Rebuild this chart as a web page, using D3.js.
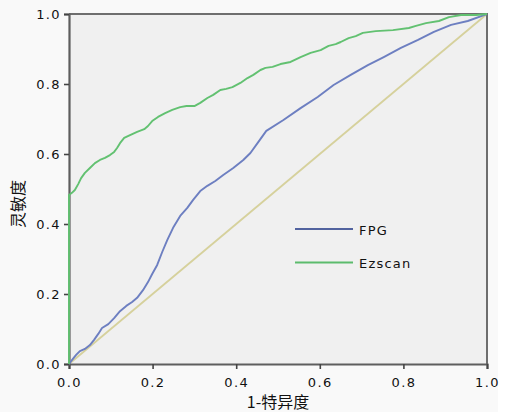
<!DOCTYPE html>
<html>
<head>
<meta charset="utf-8">
<script src="https://cdn.jsdelivr.net/npm/d3@7"></script>
<style>
  body { margin: 0; background: #fff; }
  text { font-family: "DejaVu Sans", sans-serif; fill: #111; }
  .tick text { font-size: 13px; letter-spacing: 1.4px; }
  .ttl { font-family: "Noto Sans CJK SC", sans-serif; font-size: 16px; }
</style>
</head>
<body>
<div id="chart"></div>
<script>
// ROC curves

// data
var seriesNames = ["FPG", "Ezscan"];
var tickValues = [0, 0.2, 0.4, 0.6, 0.8, 1.0];

// FPG: [1-specificity, sensitivity]
var fpgX = [0, 0.007, 0.017, 0.026, 0.038, 0.05, 0.06, 0.07, 0.079, 0.094, 0.108, 0.122, 0.137, 0.151, 0.163, 0.177, 0.189, 0.199, 0.211, 0.223, 0.235, 0.249, 0.266, 0.283, 0.297, 0.314, 0.331, 0.35, 0.369, 0.393, 0.417, 0.434, 0.451, 0.472, 0.513, 0.554, 0.595, 0.633, 0.674, 0.715, 0.753, 0.794, 0.835, 0.873, 0.914, 0.954, 0.993, 1];
var fpgY = [0, 0.011, 0.026, 0.037, 0.043, 0.054, 0.069, 0.086, 0.103, 0.114, 0.131, 0.151, 0.166, 0.177, 0.189, 0.211, 0.234, 0.257, 0.283, 0.32, 0.354, 0.389, 0.423, 0.446, 0.469, 0.494, 0.509, 0.523, 0.54, 0.56, 0.583, 0.603, 0.631, 0.666, 0.697, 0.731, 0.763, 0.797, 0.826, 0.854, 0.877, 0.903, 0.926, 0.949, 0.969, 0.98, 0.997, 1];

// Ezscan
var ezX = [0, 0, 0.007, 0.014, 0.022, 0.029, 0.038, 0.05, 0.062, 0.074, 0.086, 0.098, 0.108, 0.115, 0.122, 0.132, 0.146, 0.163, 0.18, 0.189, 0.199, 0.213, 0.23, 0.247, 0.266, 0.281, 0.3, 0.314, 0.331, 0.345, 0.362, 0.376, 0.391, 0.41, 0.427, 0.441, 0.458, 0.47, 0.487, 0.506, 0.53, 0.544, 0.554, 0.578, 0.602, 0.621, 0.638, 0.65, 0.669, 0.686, 0.703, 0.734, 0.775, 0.813, 0.83, 0.854, 0.885, 0.909, 0.938, 0.974, 1];
var ezY = [0, 0.483, 0.489, 0.497, 0.514, 0.531, 0.546, 0.56, 0.574, 0.583, 0.589, 0.597, 0.606, 0.617, 0.631, 0.646, 0.654, 0.663, 0.671, 0.68, 0.694, 0.706, 0.717, 0.726, 0.734, 0.737, 0.737, 0.746, 0.76, 0.769, 0.783, 0.786, 0.791, 0.803, 0.817, 0.826, 0.84, 0.846, 0.849, 0.857, 0.863, 0.871, 0.877, 0.889, 0.897, 0.909, 0.914, 0.92, 0.931, 0.937, 0.946, 0.951, 0.954, 0.96, 0.966, 0.974, 0.98, 0.991, 0.997, 0.997, 1];

var refX = [0, 1];
var refY = [0, 1];

var m = [14, 19, 50, 69]; //top right bottom left
var W = 506, H = 414;
var w = 487 - m[3];
var h = 364 - m[0];

var x = d3.scaleLinear().domain([0, 1]).range([0, w]);
var y = d3.scaleLinear().domain([0, 1]).range([h, 0]);

var svg = d3.select("#chart").append("svg")
	.attr("width", W)
	.attr("height", H);

// outer panel
svg.append("rect")
	.attr("width", 498).attr("height", 412)
	.attr("fill", "#f9f9f9");

var g = svg.append("g")
	.attr("transform", "translate(" + m[3] + "," + m[0] + ")");

g.append("rect")
	.attr("width", w).attr("height", h)
	.attr("fill", "#f0f0f0");

var line = d3.line()
	.x(function(d) {return x(d[0]);})
	.y(function(d) {return y(d[1]);});

function pairs(a, b) { return a.map(function(v, i) {return [v, b[i]];}); }

// reference diagonal
g.append("path")
	.datum(pairs(refX, refY))
	.attr("d", line)
	.attr("fill", "none")
	.attr("stroke", "#d6d19c")
	.attr("stroke-width", 1.8);

// frame (top, right)
g.append("path")
	.attr("d", "M0,0H" + w + "V" + h)
	.attr("fill", "none")
	.attr("stroke", "#6e6e6e")
	.attr("stroke-width", 2);

// axes
var xAxis = g.append("g")
	.attr("transform", "translate(0," + h + ")")
	.call(d3.axisBottom(x).tickValues(tickValues).tickFormat(d3.format(".1f")).tickSize(5).tickPadding(6));

var yAxis = g.append("g")
	.call(d3.axisLeft(y).tickValues(tickValues).tickFormat(d3.format(".1f")).tickSize(5).tickPadding(3));

[xAxis, yAxis].forEach(function(a) {
	a.select(".domain").attr("stroke", "#5e5e5e").attr("stroke-width", 2.2);
	a.selectAll(".tick line").attr("stroke", "#444").attr("stroke-width", 1.6);
	a.selectAll(".tick text").attr("fill", "#111");
});
xAxis.selectAll(".tick text").attr("dy", "0.9em");

// curves
g.append("path")
	.datum(pairs(fpgX, fpgY))
	.attr("d", line)
	.attr("fill", "none")
	.attr("stroke", "#6d7fc1")
	.attr("stroke-width", 1.9)
	.attr("stroke-linejoin", "round");

g.append("path")
	.datum(pairs(ezX, ezY))
	.attr("d", line)
	.attr("fill", "none")
	.attr("stroke", "#62c171")
	.attr("stroke-width", 1.9)
	.attr("stroke-linejoin", "round");

// legend
var legColors = ["#52639f", "#5cbb6d"];
var leg = svg.append("g").selectAll("g")
	.data(seriesNames)
	.enter().append("g")
	.attr("transform", function(d, i) {return "translate(295," + (229 + i * 33.5) + ")";});

leg.append("line")
	.attr("x1", 0).attr("x2", 58)
	.attr("stroke", function(d, i) {return legColors[i];})
	.attr("stroke-width", 2);

leg.append("text")
	.attr("x", 64)
	.attr("dy", "0.45em")
	.style("font-size", "13px")
	.style("letter-spacing", "1.2px")
	.text(function(d) {return d;});

// axis titles
svg.append("text")
	.attr("class", "ttl")
	.attr("x", 278).attr("y", 408)
	.attr("text-anchor", "middle")
	.text("1-特异度");

svg.append("text")
	.attr("class", "ttl")
	.attr("transform", "translate(24,204) rotate(-90)")
	.attr("text-anchor", "middle")
	.text("灵敏度");
</script>
</body>
</html>
